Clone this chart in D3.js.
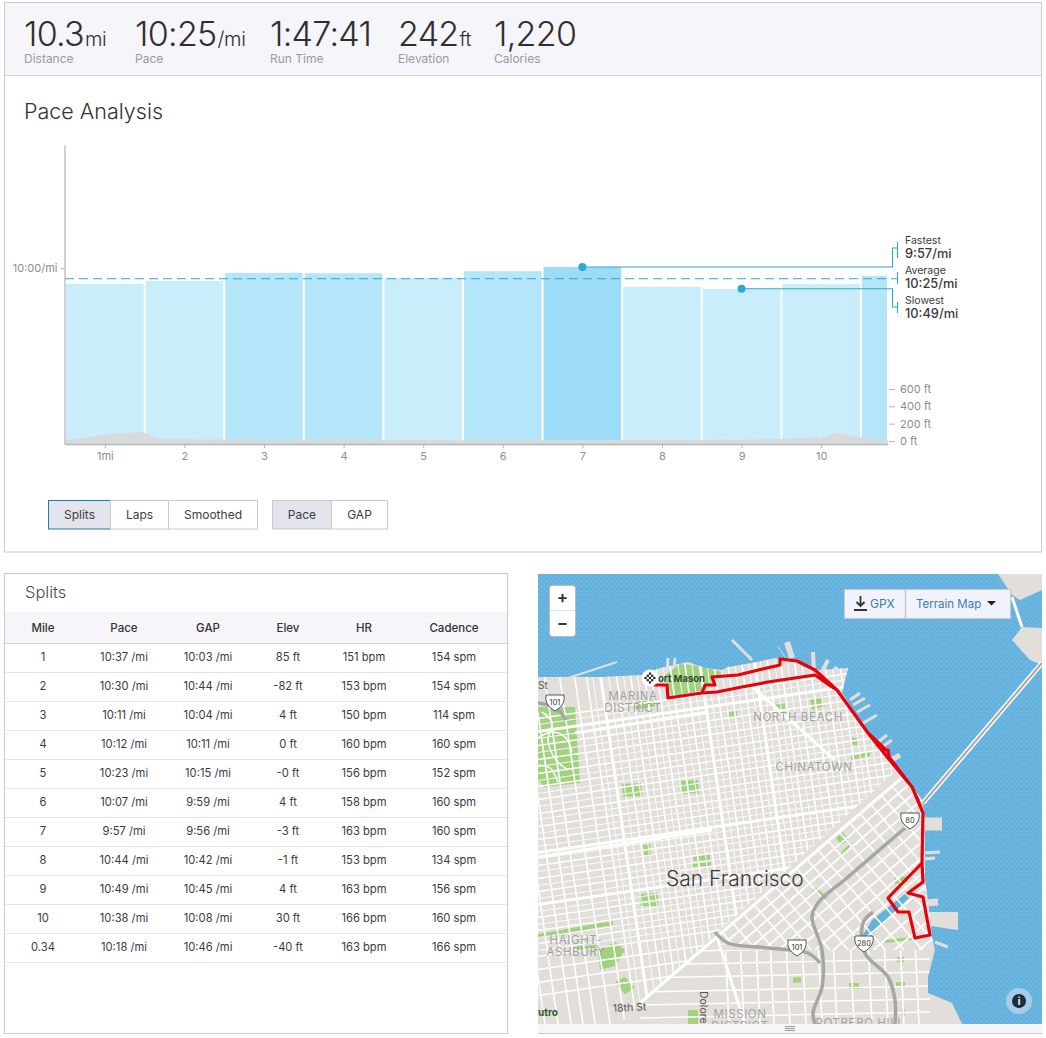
<!DOCTYPE html>
<html>
<head>
<meta charset="utf-8">
<script src="https://cdn.jsdelivr.net/npm/d3@7"></script>
<style>
html, body { margin: 0; padding: 0; background: #fff; overflow: hidden; }
svg { display: block; font-family: Inter, "Open Sans", sans-serif; }
.tick text { font-family: Inter, "Open Sans", sans-serif; }
</style>
</head>
<body>
<div id="chart"></div>
<script>
// summary row
const statValues = ["10.3", "10:25", "1:47:41", "242", "1,220"];
const statUnits = ["mi", "/mi", "", "ft", ""];
const statLabels = ["Distance", "Pace", "Run Time", "Elevation", "Calories"];

// splits table
const tableHeaders = ["Mile", "Pace", "GAP", "Elev", "HR", "Cadence"];
const splitMiles = ["1", "2", "3", "4", "5", "6", "7", "8", "9", "10", "0.34"];
const splitDistance = [1, 1, 1, 1, 1, 1, 1, 1, 1, 1, 0.34];
const splitPace = ["10:37", "10:30", "10:11", "10:12", "10:23", "10:07", "9:57", "10:44", "10:49", "10:38", "10:18"];
const splitGap = ["10:03", "10:44", "10:04", "10:11", "10:15", "9:59", "9:56", "10:42", "10:45", "10:08", "10:46"];
const splitElev = ["85", "-82", "4", "0", "-0", "4", "-3", "-1", "4", "30", "-40"];
const splitHr = [151, 153, 150, 160, 156, 158, 163, 153, 163, 166, 163];
const splitCadence = [154, 154, 114, 160, 152, 160, 160, 134, 156, 160, 166];

// chart axes and call-outs
const mileTicks = [0.5, 1.5, 2.5, 3.5, 4.5, 5.5, 6.5, 7.5, 8.5, 9.5];
const mileTickLabels = ["1mi", "2", "3", "4", "5", "6", "7", "8", "9", "10"];
const elevTicks = [0, 200, 400, 600];
const fastest = { label: "Fastest", pace: "9:57", mile: 6.5 };
const average = { label: "Average", pace: "10:25" };
const slowest = { label: "Slowest", pace: "10:49", mile: 8.5 };

// elevation profile under the bars (miles, feet)
const profileMiles = [0, 0.2, 0.44, 0.7, 0.98, 1.08, 1.2, 1.6, 2.5, 3.5, 5, 6.5, 8, 8.9, 9.45, 9.5, 9.7, 10, 10.34];
const profileFeet = [5, 30, 65, 90, 100, 65, 25, 20, 12, 14, 10, 12, 12, 22, 42, 28, 95, 45, 5];

// buttons
const groupOne = ["Splits", "Laps", "Smoothed"];
const groupTwo = ["Pace", "GAP"];

// map: everything is in map pixels
const land = [[538,677],[600,677],[642,675],[660,668],[688,662],[705,668],[722,670],[728,667],[752,663],[775,658],[800,662],[818,670],[848,668],[842,693],[868,733],[898,767],[922,800],[925,817],[925,850],[925,880],[928,900],[932,937],[935,950],[928,977],[928,993],[952,1003],[962,1024],[538,1024]];
const islandParts = [
  [[998,574],[1042,574],[1042,590],[1020,600],[1012,595]],
  [[1012,640],[1022,627],[1042,628],[1042,665],[1030,660]]
];
const islandRoad = [[1012,597],[1022,627]];
const bigPier = [[925,912],[958,912],[958,930],[930,926]];
const piers = [
  [568,678,617,662,2],[668,658,667,677,3],[675,658,673,677,3],[732,640,752,660,3],[787,642,792,658,6],[778,647,785,657,1],
  [813,652,814,672,4],[828,660,822,672,4],[837,667,828,677,4],[860,693,850,700,3],[865,698,853,705,3],[870,705,857,712,3],
  [877,715,863,723,3],[887,735,878,742,3],[892,740,882,747,3],[900,755,888,762,5],[925,824,942,824,13],[940,852,923,853,3],
  [935,858,923,859,3],[938,902,925,903,7],[948,947,935,942,3]
];
const parks = [
  [[538,707],[575,707],[580,783],[545,787],[538,780]],
  [[664,676],[680,664],[700,666],[722,672],[712,680],[706,690],[672,696]],
  [[622,784],[641,783],[642,796],[623,797]],
  [[681,781],[698,780],[699,793],[682,794]],
  [[640,894],[658,893],[658,906],[640,906]],
  [[643,845],[650,844],[651,855],[644,855]],
  [[693,856],[710,854],[710,860],[694,861]],
  [[692,864],[711,862],[711,866],[692,867]],
  [[598,950],[615,942],[625,950],[615,966],[600,970]],
  [[615,982],[625,977],[635,988],[625,994]],
  [[538,934],[613,921],[613,925],[538,938]],
  [[577,946],[600,945],[600,950],[577,951]],
  [[635,702],[655,700],[657,708],[636,711]],
  [[775,703],[785,703],[785,709],[776,710]],
  [[729,712],[737,711],[737,717],[729,718]],
  [[810,700],[820,697],[825,706],[812,710]],
  [[852,738],[858,738],[858,745],[852,745]],
  [[851,756],[870,752],[870,756],[851,760]],
  [[836,838],[843,832],[848,840],[841,845]],
  [[843,850],[852,842],[846,854],[840,856]],
  [[812,890],[816,888],[828,897],[825,900]],
  [[894,878],[908,876],[908,882],[895,884]],
  [[793,978],[801,977],[801,982],[793,983]],
  [[849,983],[859,983],[859,989],[849,989]],
  [[897,957],[904,957],[904,962],[897,962]],
  [[896,982],[905,982],[905,986],[896,986]],
  [[902,1009],[905,1009],[905,1016],[902,1016]],
  [[688,1010],[698,1010],[698,1024],[688,1024]],
  [[885,940],[920,936],[920,939],[885,943]]
];
const presidioRoads = [
  [[538,738],[552,732],[566,738],[572,752]],
  [[542,712],[552,722],[548,740],[556,760],[568,770]],
  [[538,765],[550,768],[558,782]]
];
const water = [[861,938],[872,920],[905,894],[909,898],[878,928],[868,940]];
const nsStreets = [470, 484, 498, 511, 524, 536, 548, 563, 578, 590, 620, 634, 648, 661, 675, 690, 719, 733, 747, 773, 786, 800, 815, 830, 845, 858, 873, 889];
const ewStreets = [695, 722, 736, 750, 763, 776, 790, 803, 816, 842, 855, 868, 894, 907, 920, 933, 946, 959, 972];
const nsMinor = [596, 612, 627, 641, 655, 668, 683, 697, 712, 726, 740, 754, 766, 780, 793, 807, 822, 837, 852, 866, 881];
const ewMinor = [701, 715, 729, 743, 757, 770, 783, 796, 810, 823, 835, 848, 862, 875, 888, 901, 914, 927];
const nsMajor = [705, 604, 760];
const ewMajor = [708, 829, 881];
const somaParallel = [10, 20, 30, 40, 50, 62, 74, 86, 98, 112, 126, 142];
const somaCross = [-170, -156, -142, -128, -114, -100, -86, -72, -58, -44, -30, -16, -2, 12, 26, 40, 54, 68, 82, 96, 110, 124, 138];
const southNs = [725, 740, 756, 770, 786, 802, 818, 833, 850, 868, 884, 900, 915];
const southEw = [952, 965, 978, 992, 1005, 1018];
const avenues = [[[575,733],[708,712]], [[538,857],[712,830]], [[748,683],[835,760]], [[640,1003],[905,775]], [[717,937],[745,1024]]];
const freeways = [
  [[905,828],[848,877],[818,903],[812,917],[822,950],[822,987],[813,1013],[815,1024]],
  [[715,932],[728,943],[768,948],[808,953],[820,963]],
  [[873,912],[863,923],[865,953],[888,977],[895,1000],[895,1024]],
  [[538,703],[556,708],[566,720]]
];
const routePoints = [[654,685],[667,685],[668,698],[702,693],[717,692],[742,687],[768,682],[815,675],[832,687],[837,690],[868,733],[888,758],[912,787],[918,800],[923,813],[922,863],[888,898],[898,912],[909,912],[912,925],[915,938],[930,935],[923,897],[908,893],[923,882],[922,863],[923,813],[912,787],[889,757],[888,750],[886,750],[868,733],[837,690],[815,670],[797,661],[780,659],[780,665],[767,668],[738,675],[712,677],[715,685],[705,685],[702,693],[668,698],[667,685],[654,685]];
const mapLabels = [
  { text: "MARINA", x: 633, y: 700 }, { text: "DISTRICT", x: 633, y: 712 },
  { text: "NORTH BEACH", x: 798, y: 721 }, { text: "CHINATOWN", x: 814, y: 771 },
  { text: "HAIGHT-", x: 576, y: 944 }, { text: "ASHBURY", x: 576, y: 956 },
  { text: "MISSION", x: 740, y: 1018 }, { text: "DISTRICT", x: 740, y: 1030 }, { text: "POTRERO HILL", x: 860, y: 1027 }
];
const shields = [{ text: "101", x: 555, y: 702 }, { text: "101", x: 797, y: 947 }, { text: "80", x: 910, y: 820 }, { text: "280", x: 864, y: 943 }];

const lightBlue = "#c9edfb";
const lineBlue = "#2ba8d6";
const borderGrey = "#c9c9ce";
const panelBg = "#f5f5fa";

const svg = d3.select("#chart").append("svg").attr("width", 1046).attr("height", 1038);

function parsePace(s) {
  let p = s.split(":");
  return +p[0] * 60 + +p[1];
}

// ---------- top panel ----------
svg.append("rect").attr("x", 4.5).attr("y", 2.5).attr("width", 1037).attr("height", 549.5)
  .attr("fill", "#fff").attr("stroke", borderGrey);
svg.append("rect").attr("x", 5).attr("y", 3).attr("width", 1036).attr("height", 72).attr("fill", panelBg);
svg.append("line").attr("x1", 5).attr("x2", 1041).attr("y1", 75.5).attr("y2", 75.5).attr("stroke", "#d5d5da");

const statX = [24, 135, 270, 398, 494];
statValues.forEach(function(v, i) {
  let t = svg.append("text").attr("x", statX[i]).attr("y", 46)
    .attr("fill", "#2f2f33").attr("font-size", 34).attr("letter-spacing", -0.7).attr("font-weight", 300).text(v);
  t.append("tspan").attr("font-size", 20).attr("letter-spacing", -0.4).attr("dx", 1).text(statUnits[i]);
  svg.append("text").attr("x", statX[i]).attr("y", 63)
    .attr("fill", "#9a9aa0").attr("font-size", 12).text(statLabels[i]);
});

svg.append("text").attr("x", 24).attr("y", 119).attr("fill", "#333")
  .attr("font-size", 21.5).attr("font-weight", 300).text("Pace Analysis");

// ---------- pace chart ----------
const x = d3.scaleLinear().domain([0, 10.34]).range([65, 888]);
const paceY = d3.scaleLinear().domain([1018, 307]).range([444, 145]);
const elevY = d3.scaleLinear().domain([0, 600]).range([441, 389]);
const barColor = d3.scaleThreshold().domain([600, 620]).range(["#9cdcf7", "#b5e5f9", lightBlue]);

let cumulative = 0;
const bars = splitPace.map(function(p, i) {
  let b = { pace: parsePace(p), from: cumulative, to: cumulative + splitDistance[i] };
  cumulative = b.to;
  return b;
});

svg.append("g").selectAll("rect").data(bars).enter().append("rect")
  .attr("x", function(d) { return x(d.from) + 1; })
  .attr("width", function(d) { return x(d.to) - x(d.from) - 2; })
  .attr("y", function(d) { return paceY(d.pace); })
  .attr("height", function(d) { return paceY.range()[0] - paceY(d.pace); })
  .attr("fill", function(d) { return barColor(d.pace); });

const profileArea = d3.area()
  .x(function(d, i) { return x(profileMiles[i]); })
  .y0(paceY.range()[0])
  .y1(function(d) { return elevY(d); });
svg.append("path").attr("d", profileArea(profileFeet)).attr("fill", "#d9d9d9").attr("opacity", 0.95);

// axes
const xAxis = svg.append("g").attr("transform", "translate(0,444)")
  .call(d3.axisBottom(x).tickValues(mileTicks).tickFormat(function(d, i) { return mileTickLabels[i]; }).tickSize(4).tickSizeOuter(0));
xAxis.select(".domain").attr("stroke", "#b5b5b5").attr("stroke-width", 1.5);
xAxis.selectAll(".tick line").attr("stroke", "#b5b5b5");
xAxis.selectAll(".tick text").attr("fill", "#8e8e8e").attr("font-size", 11).attr("dy", 9);

const yAxis = svg.append("g").attr("transform", "translate(64.5,0)")
  .call(d3.axisLeft(paceY).tickValues([600]).tickFormat(function() { return "10:00/mi"; }).tickSize(4).tickSizeOuter(0));
yAxis.select(".domain").attr("stroke", "#b5b5b5").attr("stroke-width", 1.2);
yAxis.selectAll(".tick line").attr("stroke", "#b5b5b5");
yAxis.selectAll(".tick text").attr("fill", "#8e8e8e").attr("font-size", 11);

const elevAxis = svg.append("g").attr("transform", "translate(889,0)")
  .call(d3.axisRight(elevY).tickValues(elevTicks).tickFormat(function(d) { return d + " ft"; }).tickSize(6).tickPadding(5));
elevAxis.select(".domain").remove();
elevAxis.selectAll(".tick line").attr("stroke", "#b5b5b5");
elevAxis.selectAll(".tick text").attr("fill", "#8e8e8e").attr("font-size", 11);

// average / fastest / slowest call-outs
const bracketX = 892.5;
const labelLine = 897.5;
svg.append("line").attr("x1", x(0)).attr("x2", labelLine)
  .attr("y1", paceY(parsePace(average.pace))).attr("y2", paceY(parsePace(average.pace)))
  .attr("stroke", lineBlue).attr("stroke-width", 1).attr("stroke-dasharray", "9 5");
svg.append("path").attr("fill", "none").attr("stroke", lineBlue)
  .attr("d", "M" + labelLine + ",272V284");

function callout(c, elbowY, top, bottom) {
  let py = paceY(parsePace(c.pace));
  svg.append("path").attr("fill", "none").attr("stroke", lineBlue).attr("stroke-width", 1.1)
    .attr("d", "M" + x(c.mile) + "," + py + "H" + bracketX + "V" + elbowY + "H" + labelLine + "M" + labelLine + "," + top + "V" + bottom);
  svg.append("circle").attr("cx", x(c.mile)).attr("cy", py).attr("r", 4).attr("fill", lineBlue);
}
callout(fastest, 248, 242, 258);
callout(slowest, 307, 302, 313);

[[fastest, 244], [average, 274], [slowest, 304]].forEach(function(c) {
  svg.append("text").attr("x", 905).attr("y", c[1]).attr("fill", "#3a3a3f").attr("font-size", 10.5).text(c[0].label);
  svg.append("text").attr("x", 905).attr("y", c[1] + 14).attr("fill", "#3a3a3f").attr("font-size", 12.8)
    .attr("font-weight", 500).text(c[0].pace + "/mi");
});

// buttons
function buttons(names, edges, activeFill, activeStroke) {
  names.forEach(function(n, i) {
    let active = i === 0;
    svg.append("rect").attr("x", edges[i] + 0.5).attr("y", 500.5).attr("width", edges[i + 1] - edges[i]).attr("height", 28.5)
      .attr("fill", active ? activeFill : "#fff").attr("stroke", active ? "none" : borderGrey);
    if (active) {
      svg.append("rect").attr("x", edges[i] + 0.5).attr("y", 500.5).attr("width", edges[i + 1] - edges[i]).attr("height", 28.5)
        .attr("fill", "none").attr("stroke", activeStroke);
    }
    svg.append("text").attr("x", (edges[i] + edges[i + 1]) / 2 + 0.5).attr("y", 519)
      .attr("text-anchor", "middle").attr("fill", "#3c3c42").attr("font-size", 12).text(n);
  });
}
buttons(groupOne, [48, 110, 168, 257], "#e4e4ec", "#1d7ea6");
buttons(groupTwo, [272, 331, 387], "#e4e4ec", borderGrey);

// ---------- splits table ----------
svg.append("rect").attr("x", 4.5).attr("y", 573.5).attr("width", 503).attr("height", 460)
  .attr("fill", "#fff").attr("stroke", borderGrey);
svg.append("text").attr("x", 25).attr("y", 598).attr("fill", "#4a4a4f")
  .attr("font-size", 16.5).attr("font-weight", 300).text("Splits");
svg.append("rect").attr("x", 5).attr("y", 612).attr("width", 502).attr("height", 31).attr("fill", panelBg);
svg.append("line").attr("x1", 5).attr("x2", 507).attr("y1", 643.5).attr("y2", 643.5).attr("stroke", "#d5d5da");

const columnX = [43, 124, 208, 288, 364, 454];
const rowY = d3.scaleLinear().domain([0, 11]).range([643.5, 962.5]);

tableHeaders.forEach(function(h, i) {
  svg.append("text").attr("x", columnX[i]).attr("y", 631.5).attr("text-anchor", "middle")
    .attr("fill", "#333").attr("font-size", 11.5).attr("font-weight", 500).text(h);
});

const columns = [
  splitMiles,
  splitPace.map(function(d) { return d + " /mi"; }),
  splitGap.map(function(d) { return d + " /mi"; }),
  splitElev.map(function(d) { return d + " ft"; }),
  splitHr.map(function(d) { return d + " bpm"; }),
  splitCadence.map(function(d) { return d + " spm"; })
];
splitMiles.forEach(function(m, r) {
  svg.append("line").attr("x1", 5).attr("x2", 507).attr("y1", rowY(r + 1)).attr("y2", rowY(r + 1)).attr("stroke", "#e4e4e8");
  columns.forEach(function(col, c) {
    svg.append("text").attr("x", columnX[c]).attr("y", rowY(r) + 17.5).attr("text-anchor", "middle")
      .attr("fill", "#3a3a3f").attr("font-size", 11.2).text(col[r]);
  });
});

// ---------- map ----------
const mapX = d3.scaleIdentity();
const mapY = d3.scaleIdentity();
const mapLine = d3.line().x(function(d) { return mapX(d[0]); }).y(function(d) { return mapY(d[1]); });
const smoothLine = d3.line().curve(d3.curveCatmullRom).x(function(d) { return mapX(d[0]); }).y(function(d) { return mapY(d[1]); });

const defs = svg.append("defs");
defs.append("clipPath").attr("id", "mapClip").append("rect").attr("x", 538).attr("y", 574).attr("width", 504).attr("height", 450);
defs.append("clipPath").attr("id", "landClip").append("path").attr("d", mapLine(land) + "Z");
defs.append("clipPath").attr("id", "northClip").append("path")
  .attr("d", mapLine([[538,660],[930,660],[930,740],[640,1003],[620,1024],[538,1024]]) + "Z");
defs.append("clipPath").attr("id", "somaClip").append("path")
  .attr("d", mapLine([[905,775],[720,934],[722,945],[820,950],[940,950],[940,775]]) + "Z");
defs.append("clipPath").attr("id", "southClip").append("path")
  .attr("d", mapLine([[640,1003],[715,938],[722,950],[940,950],[940,1024],[620,1024]]) + "Z");
const stipple = defs.append("pattern").attr("id", "stipple").attr("width", 5).attr("height", 5)
  .attr("patternUnits", "userSpaceOnUse");
stipple.append("circle").attr("cx", 1.5).attr("cy", 1.5).attr("r", 0.6).attr("fill", "#8cc8e8");
stipple.append("circle").attr("cx", 4).attr("cy", 4).attr("r", 0.6).attr("fill", "#8cc8e8");

const map = svg.append("g").attr("clip-path", "url(#mapClip)");
map.append("rect").attr("x", 538).attr("y", 574).attr("width", 504).attr("height", 450).attr("fill", "#65b2de");
map.append("rect").attr("x", 538).attr("y", 574).attr("width", 504).attr("height", 450).attr("fill", "url(#stipple)");

const landColor = "#e2ded9";
map.append("path").attr("d", mapLine(land) + "Z").attr("fill", landColor);
map.append("path").attr("d", mapLine(bigPier) + "Z").attr("fill", landColor);
islandParts.forEach(function(p) {
  map.append("path").attr("d", mapLine(p) + "Z").attr("fill", landColor);
});
map.append("path").attr("d", mapLine(islandRoad)).attr("stroke", "#fff").attr("stroke-width", 3).attr("fill", "none");
map.selectAll(".pier").data(piers).enter().append("line").attr("class", "pier")
  .attr("x1", function(d) { return mapX(d[0]); }).attr("y1", function(d) { return mapY(d[1]); })
  .attr("x2", function(d) { return mapX(d[2]); }).attr("y2", function(d) { return mapY(d[3]); })
  .attr("stroke", landColor).attr("stroke-width", function(d) { return d[4]; });

// bay bridge
map.append("path").attr("d", mapLine([[923,803],[1042,663]])).attr("stroke", "#fff").attr("stroke-width", 5).attr("fill", "none");
map.append("path").attr("d", mapLine([[923,803],[1042,663]])).attr("stroke", "#a8a8a8").attr("stroke-width", 2).attr("fill", "none");

const landLayer = map.append("g").attr("clip-path", "url(#landClip)");
landLayer.selectAll(".park").data(parks).enter().append("path").attr("class", "park")
  .attr("d", function(d) { return mapLine(d) + "Z"; }).attr("fill", "#a2d180");
landLayer.append("path").attr("d", mapLine(water) + "Z").attr("fill", "#65b2de");
presidioRoads.forEach(function(r) {
  landLayer.append("path").attr("d", smoothLine(r)).attr("stroke", "#fff").attr("stroke-width", 1.5).attr("fill", "none");
});

function road(layer, a, b, w) {
  layer.append("line").attr("x1", mapX(a[0])).attr("y1", mapY(a[1])).attr("x2", mapX(b[0])).attr("y2", mapY(b[1]))
    .attr("stroke", "#fff").attr("stroke-width", w);
}

// tilted grid north of market
const tilt = 0.145;
const north = landLayer.append("g").attr("clip-path", "url(#northClip)");
function nsRoad(u, w) { road(north, [u + tilt * (660 - 700), 660], [u + tilt * (1024 - 700), 1024], w); }
function ewRoad(v, w) { road(north, [538, v - tilt * (538 - 700)], [930, v - tilt * (930 - 700)], w); }
nsMinor.forEach(function(u) { nsRoad(u, 0.9); });
ewMinor.forEach(function(v) { ewRoad(v, 0.9); });
nsStreets.forEach(function(u) { nsRoad(u, 1.6); });
ewStreets.forEach(function(v) { ewRoad(v, 1.6); });
nsMajor.forEach(function(u) { nsRoad(u, 3); });
ewMajor.forEach(function(v) { ewRoad(v, 3); });

// south of market runs on its own angle
const soma = landLayer.append("g").attr("clip-path", "url(#somaClip)");
const marketDir = [0.757, -0.653];
const marketNorm = [0.653, 0.757];
const marketAnchor = [798, 867];
somaParallel.forEach(function(o) {
  let px = marketAnchor[0] + o * marketNorm[0], py = marketAnchor[1] + o * marketNorm[1];
  road(soma, [px - 300 * marketDir[0], py - 300 * marketDir[1]], [px + 300 * marketDir[0], py + 300 * marketDir[1]], 1.8);
});
somaCross.forEach(function(s) {
  let px = marketAnchor[0] + s * marketDir[0], py = marketAnchor[1] + s * marketDir[1];
  road(soma, [px, py], [px + 200 * marketNorm[0], py + 200 * marketNorm[1]], 1.6);
});

// mission and potrero
const south = landLayer.append("g").attr("clip-path", "url(#southClip)");
southNs.forEach(function(u) { road(south, [u, 940], [u + 4, 1024], 1.6); });
southEw.forEach(function(v) { road(south, [640, v], [930, v - 6], 1.6); });

avenues.forEach(function(a) {
  landLayer.append("path").attr("d", mapLine(a)).attr("stroke", "#fff").attr("stroke-width", 3).attr("fill", "none");
});
freeways.forEach(function(f) {
  landLayer.append("path").attr("d", smoothLine(f)).attr("stroke", "#a6a6a6").attr("stroke-width", 3.5).attr("fill", "none");
});

mapLabels.forEach(function(l) {
  map.append("text").attr("x", l.x).attr("y", l.y).attr("text-anchor", "middle")
    .attr("fill", "#a3a3a3").attr("font-size", 11.5).attr("letter-spacing", 0.6).text(l.text);
});
map.append("text").attr("x", 666).attr("y", 886).attr("fill", "#3a3a3a").attr("font-size", 21).attr("font-weight", 300).text("San Francisco");
map.append("text").attr("x", 613).attr("y", 1012).attr("fill", "#555").attr("font-size", 10.5)
  .attr("transform", "rotate(-3 613 1012)").text("18th St");
map.append("text").attr("x", 700).attr("y", 991).attr("fill", "#555").attr("font-size", 10.5)
  .attr("transform", "rotate(90 700 991)").text("Dolores");
map.append("text").attr("x", 538).attr("y", 1016).attr("fill", "#2f5a2a").attr("font-size", 10).attr("font-weight", 700).text("utro");
map.append("text").attr("x", 538).attr("y", 689).attr("fill", "#555").attr("font-size", 10).text("St");

shields.forEach(function(s) {
  let g = map.append("g").attr("transform", "translate(" + s.x + "," + s.y + ")");
  g.append("path").attr("d", "M-9,-7H9Q11,3 0,9Q-11,3 -9,-7Z").attr("fill", "#fff").attr("stroke", "#555").attr("stroke-width", 1);
  g.append("text").attr("text-anchor", "middle").attr("y", 3).attr("font-size", 7.5).attr("fill", "#333").text(s.text);
});

// route
map.append("path").attr("d", mapLine(routePoints)).attr("fill", "none").attr("stroke", "#e8000b")
  .attr("stroke-width", 3.2).attr("stroke-linejoin", "round");

map.append("text").attr("x", 658).attr("y", 682).attr("fill", "#2f4d22").attr("font-size", 9.5).attr("font-weight", 700).text("ort Mason");

// start flag
map.append("circle").attr("cx", 650).attr("cy", 678).attr("r", 8.5).attr("fill", "#fff");
const checker = map.append("g");
d3.range(-2, 3).forEach(function(i) {
  d3.range(-2, 3).forEach(function(j) {
    if ((i + j) % 2 === 0 && i * i + j * j < 7) {
      checker.append("rect").attr("x", 650 + i * 2.2 - 1.1).attr("y", 678 + j * 2.2 - 1.1)
        .attr("width", 2.2).attr("height", 2.2).attr("fill", "#222");
    }
  });
});

// map controls
map.append("rect").attr("x", 549.5).attr("y", 585.5).attr("width", 26).attr("height", 51).attr("rx", 3)
  .attr("fill", "#fff").attr("stroke", "#bbb");
map.append("line").attr("x1", 550).attr("x2", 575).attr("y1", 610.5).attr("y2", 610.5).attr("stroke", "#ddd");
map.append("text").attr("x", 562.5).attr("y", 603).attr("text-anchor", "middle").attr("font-size", 17).attr("font-weight", 600).attr("fill", "#333").text("+");
map.append("text").attr("x", 562.5).attr("y", 629).attr("text-anchor", "middle").attr("font-size", 17).attr("font-weight", 600).attr("fill", "#333").text("−");

map.append("rect").attr("x", 844.5).attr("y", 589.5).attr("width", 166).attr("height", 29).attr("fill", "#f2f2fa").attr("stroke", "#c6c6cc");
map.append("line").attr("x1", 905.5).attr("x2", 905.5).attr("y1", 590).attr("y2", 618).attr("stroke", "#c6c6cc").attr("stroke-width", 1.5);
map.append("path").attr("d", "M860.5,596V605M856.5,602L860.5,606L864.5,602M854,610H867").attr("fill", "none").attr("stroke", "#333").attr("stroke-width", 1.8);
map.append("text").attr("x", 870).attr("y", 608).attr("fill", "#3b7cb5").attr("font-size", 12).text("GPX");
map.append("text").attr("x", 916).attr("y", 608).attr("fill", "#3b7cb5").attr("font-size", 11.5).text("Terrain Map");
map.append("path").attr("d", "M987,601H996L991.5,605.5Z").attr("fill", "#222");

map.append("circle").attr("cx", 1019).attr("cy", 1001).attr("r", 13).attr("fill", "#a3cde9");
map.append("circle").attr("cx", 1019).attr("cy", 1001).attr("r", 7).attr("fill", "#1d2d3c");
map.append("text").attr("x", 1019).attr("y", 1005).attr("text-anchor", "middle").attr("font-size", 10).attr("font-weight", 700).attr("fill", "#fff").text("i");

// resize grip under the map
svg.append("rect").attr("x", 538).attr("y", 1024).attr("width", 504).attr("height", 9).attr("fill", panelBg);
svg.append("line").attr("x1", 538).attr("x2", 1042).attr("y1", 1033.5).attr("y2", 1033.5).attr("stroke", "#ccc");
[1026.5, 1028.5, 1030.5].forEach(function(y) {
  svg.append("line").attr("x1", 785).attr("x2", 795).attr("y1", y).attr("y2", y).attr("stroke", "#999");
});
</script>
</body>
</html>
